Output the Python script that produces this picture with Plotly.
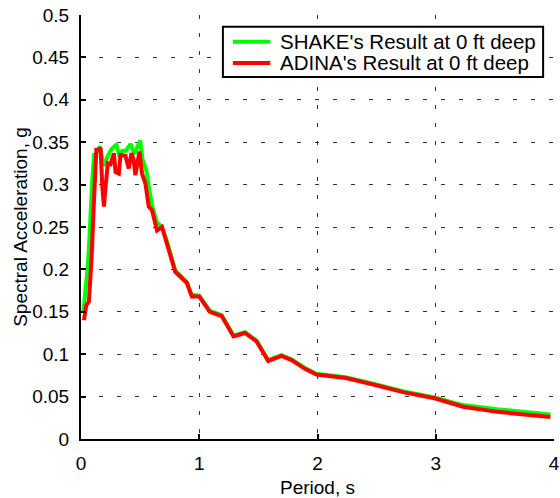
import plotly.graph_objects as go

# Data
period_adina = [0.025, 0.045, 0.067, 0.09, 0.11, 0.13, 0.146, 0.166, 0.18, 0.194, 0.208, 0.227, 0.25,
                0.278, 0.292, 0.32, 0.334, 0.376, 0.404, 0.427, 0.446, 0.46, 0.494, 0.516, 0.545,
                0.573, 0.60, 0.643, 0.685, 0.727, 0.77, 0.797, 0.895, 0.937, 1.0, 1.09, 1.19, 1.29,
                1.387, 1.485, 1.583, 1.695, 1.78, 1.89, 1.99, 2.24, 2.48, 2.73, 2.99, 3.23, 3.52, 3.97]
sa_adina = [0.140, 0.158, 0.162, 0.215, 0.282, 0.341, 0.341, 0.343, 0.298, 0.274, 0.298, 0.325, 0.324,
            0.337, 0.315, 0.313, 0.335, 0.334, 0.319, 0.337, 0.329, 0.311, 0.339, 0.313, 0.301,
            0.274, 0.270, 0.246, 0.250, 0.231, 0.211, 0.197, 0.184, 0.168, 0.168, 0.150, 0.145, 0.121,
            0.125, 0.115, 0.092, 0.098, 0.093, 0.083, 0.076, 0.072, 0.064, 0.055, 0.048, 0.038, 0.032, 0.026]

period_shake = [0.02, 0.04, 0.055, 0.067, 0.076, 0.085, 0.095, 0.11, 0.125, 0.14, 0.16, 0.18, 0.2,
                0.22, 0.25, 0.28, 0.30, 0.32, 0.35, 0.38, 0.40, 0.42, 0.45, 0.48, 0.50, 0.52, 0.55,
                0.58, 0.60, 0.64, 0.685, 0.727, 0.77, 0.797, 0.895, 0.937, 1.0, 1.09, 1.19, 1.29,
                1.387, 1.485, 1.583, 1.695, 1.78, 1.89, 1.99, 2.24, 2.48, 2.73, 2.99, 3.23, 3.52, 3.97]
sa_shake = [0.150, 0.175, 0.200, 0.225, 0.255, 0.280, 0.305, 0.335, 0.335, 0.340, 0.345, 0.330, 0.322,
            0.332, 0.340, 0.345, 0.347, 0.336, 0.340, 0.340, 0.345, 0.348, 0.336, 0.345, 0.352, 0.330, 0.318,
            0.292, 0.276, 0.256, 0.250, 0.233, 0.213, 0.199, 0.185, 0.170, 0.169, 0.151, 0.146, 0.122,
            0.126, 0.116, 0.093, 0.099, 0.094, 0.084, 0.077, 0.073, 0.065, 0.056, 0.049, 0.040, 0.035, 0.029]

series_names = ["SHAKE's Result at 0 ft deep", "ADINA's Result at 0 ft deep"]
series_colors = ["#00ff00", "#ff0000"]

x_ticks = [0, 1, 2, 3, 4]
y_ticks = [0, 0.05, 0.1, 0.15, 0.2, 0.25, 0.3, 0.35, 0.4, 0.45, 0.5]
y_tick_labels = ["0", "0.05", "0.1", "0.15", "0.2", "0.25", "0.3", "0.35", "0.4", "0.45", "0.5"]

fig = go.Figure()
fig.add_trace(go.Scatter(x=period_shake, y=sa_shake, mode="lines",
                         name=series_names[0],
                         line=dict(color=series_colors[0], width=4)))
fig.add_trace(go.Scatter(x=period_adina, y=sa_adina, mode="lines",
                         name=series_names[1],
                         line=dict(color=series_colors[1], width=4)))

FAM = "Liberation Sans, Arial, sans-serif"
font = dict(family=FAM, size=19, color="black")

# Compact MATLAB-style legend box (paper coordinates)
leg_x0, leg_x1, leg_y0, leg_y1 = 0.300, 0.977, 0.854, 0.972
row_y = [0.937, 0.887]
shapes = [dict(type="rect", xref="paper", yref="paper", x0=leg_x0, x1=leg_x1, y0=leg_y0, y1=leg_y1,
               line=dict(color="black", width=2), fillcolor="white", layer="above")]
annotations = []
for name, color, yy in zip(series_names, series_colors, row_y):
    shapes.append(dict(type="line", xref="paper", yref="paper", x0=0.321, x1=0.400, y0=yy, y1=yy,
                       line=dict(color=color, width=4), layer="above"))
    annotations.append(dict(xref="paper", yref="paper", x=0.416, y=yy, text=name, showarrow=False,
                            xanchor="left", yanchor="middle", font=dict(family=FAM, size=20.5, color="black")))

fig.update_layout(
    width=560, height=498,
    margin=dict(l=81, r=6, t=15, b=59),
    paper_bgcolor="white", plot_bgcolor="white",
    font=font,
    showlegend=False,
    shapes=shapes,
    annotations=annotations,
    xaxis=dict(range=[0, 4], tickvals=x_ticks, ticktext=[str(v) for v in x_ticks],
               showline=True, linecolor="black", linewidth=2,
               ticks="inside", ticklen=5, tickcolor="black", tickwidth=1.5,
               ticklabelstandoff=6, automargin=False,
               showgrid=True, gridcolor="#333333", gridwidth=1, griddash="4px,14px",
               zeroline=False,
               title=dict(text="Period, s", standoff=15, font=font)),
    yaxis=dict(range=[0, 0.5], tickvals=y_ticks, ticktext=y_tick_labels,
               showline=True, linecolor="black", linewidth=2,
               ticks="inside", ticklen=5, tickcolor="black", tickwidth=1.5,
               ticklabelstandoff=6, automargin=False,
               showgrid=True, gridcolor="#333333", gridwidth=1, griddash="4px,14px",
               zeroline=False,
               title=dict(text="Spectral Acceleration, g", standoff=0, font=font)),
)

fig.write_html("out.html")
